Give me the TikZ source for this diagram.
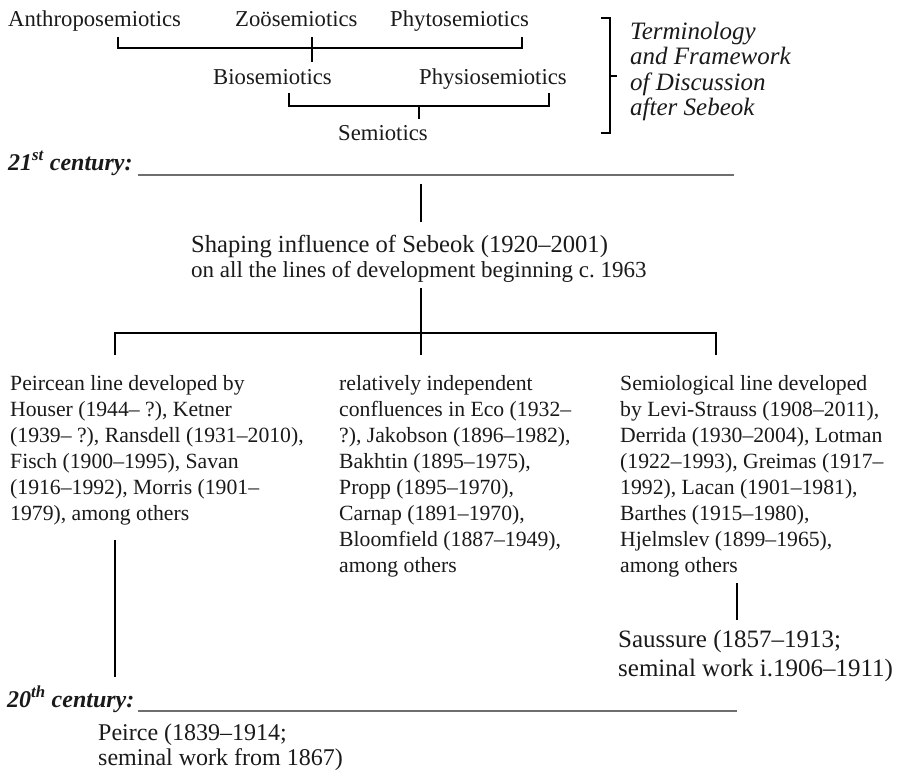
\documentclass[tikz,border=0pt]{standalone}
\usepackage{fontspec}
\setmainfont{Liberation Serif}
\frenchspacing
\definecolor{ink}{HTML}{1A1A1A}
\definecolor{rulegray}{HTML}{6E6E6E}
\begin{document}
\begin{tikzpicture}[x=1pt,y=-1pt,
  txt/.style={inner sep=0pt, anchor=base west, text=ink},
  lbl/.style={txt, font=\fontsize{22.7}{26}\selectfont},
  col/.style={txt, font=\fontsize{21.7}{26.1}\selectfont},
  termtxt/.style={txt, font=\fontsize{25}{25.5}\selectfont\itshape},
  century/.style={txt, font=\fontsize{24}{26}\selectfont\bfseries\itshape},
  brk/.style={line width=1.7pt, draw=black},
  cent/.style={line width=1.6pt, draw=rulegray}]
\useasboundingbox[fill=white] (0,0) rectangle (904,772);

% --- top terminology tree
\node[lbl] (anthro) at (8,26) {Anthroposemiotics};
\node[lbl] (zoo) at (235,26) {Zoösemiotics};
\node[lbl] (phyto) at (390,26) {Phytosemiotics};
\node[lbl] (bio) at (213,84) {Biosemiotics};
\node[lbl] (physio) at (419,84) {Physiosemiotics};
\node[lbl] (semio) at (338,140) {Semiotics};

\coordinate (a1) at (118,37);  \coordinate (a2) at (118,48);
\coordinate (a3) at (522,48);  \coordinate (a4) at (522,37);
\coordinate (a5) at (312,37);  \coordinate (a6) at (312,62);
\draw[brk] (a1) -- (a2) -- (a3) -- (a4);
\draw[brk] (a5) -- (a6);

\coordinate (b1) at (289,93);  \coordinate (b2) at (289,106);
\coordinate (b3) at (549,106); \coordinate (b4) at (549,93);
\coordinate (b5) at (419,106); \coordinate (b6) at (419,119);
\draw[brk] (b1) -- (b2) -- (b3) -- (b4);
\draw[brk] (b5) -- (b6);

% --- right bracket and label
\coordinate (r1) at (601,18); \coordinate (r2) at (610,18);
\coordinate (r3) at (610,133); \coordinate (r4) at (601,133);
\coordinate (r5) at (610,76); \coordinate (r6) at (617,76);
\draw[brk] (r1) -- (r2) -- (r3) -- (r4);
\draw[brk] (r5) -- (r6);
\node[termtxt] (term) at (630,39) {\begin{tabular}[t]{@{}l@{}}Terminology\\and Framework\\of Discussion\\after Sebeok\end{tabular}};

% --- 21st century
\node[century] (c21) at (8,170) {21\textsuperscript{st} century:};
\coordinate (c21a) at (138,175); \coordinate (c21b) at (734,175);
\draw[cent] (c21a) -- (c21b);

\coordinate (m1) at (421,184); \coordinate (m2) at (421,222);
\draw[brk] (m1) -- (m2);

\node[txt, font=\fontsize{23}{25}\selectfont] (sebeok) at (191,252) {\begin{tabular}[t]{@{}l@{}}{\fontsize{24.6}{26}\selectfont Shaping influence of Sebeok (1920–2001)}\\on all the lines of development beginning c.\ 1963\end{tabular}};

\coordinate (m3) at (421,288); \coordinate (m4) at (421,355);
\draw[brk] (m3) -- (m4);
\coordinate (k1) at (115,355); \coordinate (k2) at (115,333);
\coordinate (k3) at (716,333); \coordinate (k4) at (716,355);
\draw[brk] (k1) -- (k2) -- (k3) -- (k4);

% --- three lines of development
\node[col] (peircean) at (10,390) {\begin{tabular}[t]{@{}l@{}}Peircean line developed by\\Houser (1944– ?), Ketner\\(1939– ?), Ransdell (1931–2010),\\Fisch (1900–1995), Savan\\(1916–1992), Morris (1901–\\1979), among others\end{tabular}};

\node[col] (indep) at (339,390) {\begin{tabular}[t]{@{}l@{}}relatively independent\\confluences in Eco (1932–\\?), Jakobson (1896–1982),\\Bakhtin (1895–1975),\\Propp (1895–1970),\\Carnap (1891–1970),\\Bloomfield (1887–1949),\\among others\end{tabular}};

\node[col] (semiol) at (620,390) {\begin{tabular}[t]{@{}l@{}}Semiological line developed\\by Levi-Strauss (1908–2011),\\Derrida (1930–2004), Lotman\\(1922–1993), Greimas (1917–\\1992), Lacan (1901–1981),\\Barthes (1915–1980),\\Hjelmslev (1899–1965),\\among others\end{tabular}};

\coordinate (p1) at (115,540); \coordinate (p2) at (115,677);
\draw[brk] (p1) -- (p2);
\coordinate (s1) at (737,583); \coordinate (s2) at (737,620);
\draw[brk] (s1) -- (s2);

\node[txt, font=\fontsize{25}{29}\selectfont] (saussure) at (618,647) {\begin{tabular}[t]{@{}l@{}}Saussure (1857–1913;\\seminal work i.1906–1911)\end{tabular}};

% --- 20th century
\node[century] (c20) at (7,707) {20\textsuperscript{th} century:};
\coordinate (c20a) at (138,711); \coordinate (c20b) at (737,711);
\draw[cent] (c20a) -- (c20b);

\node[txt, font=\fontsize{24}{25}\selectfont] (peirce) at (98,740) {\begin{tabular}[t]{@{}l@{}}Peirce (1839–1914;\\seminal work from 1867)\end{tabular}};
\end{tikzpicture}
\end{document}
